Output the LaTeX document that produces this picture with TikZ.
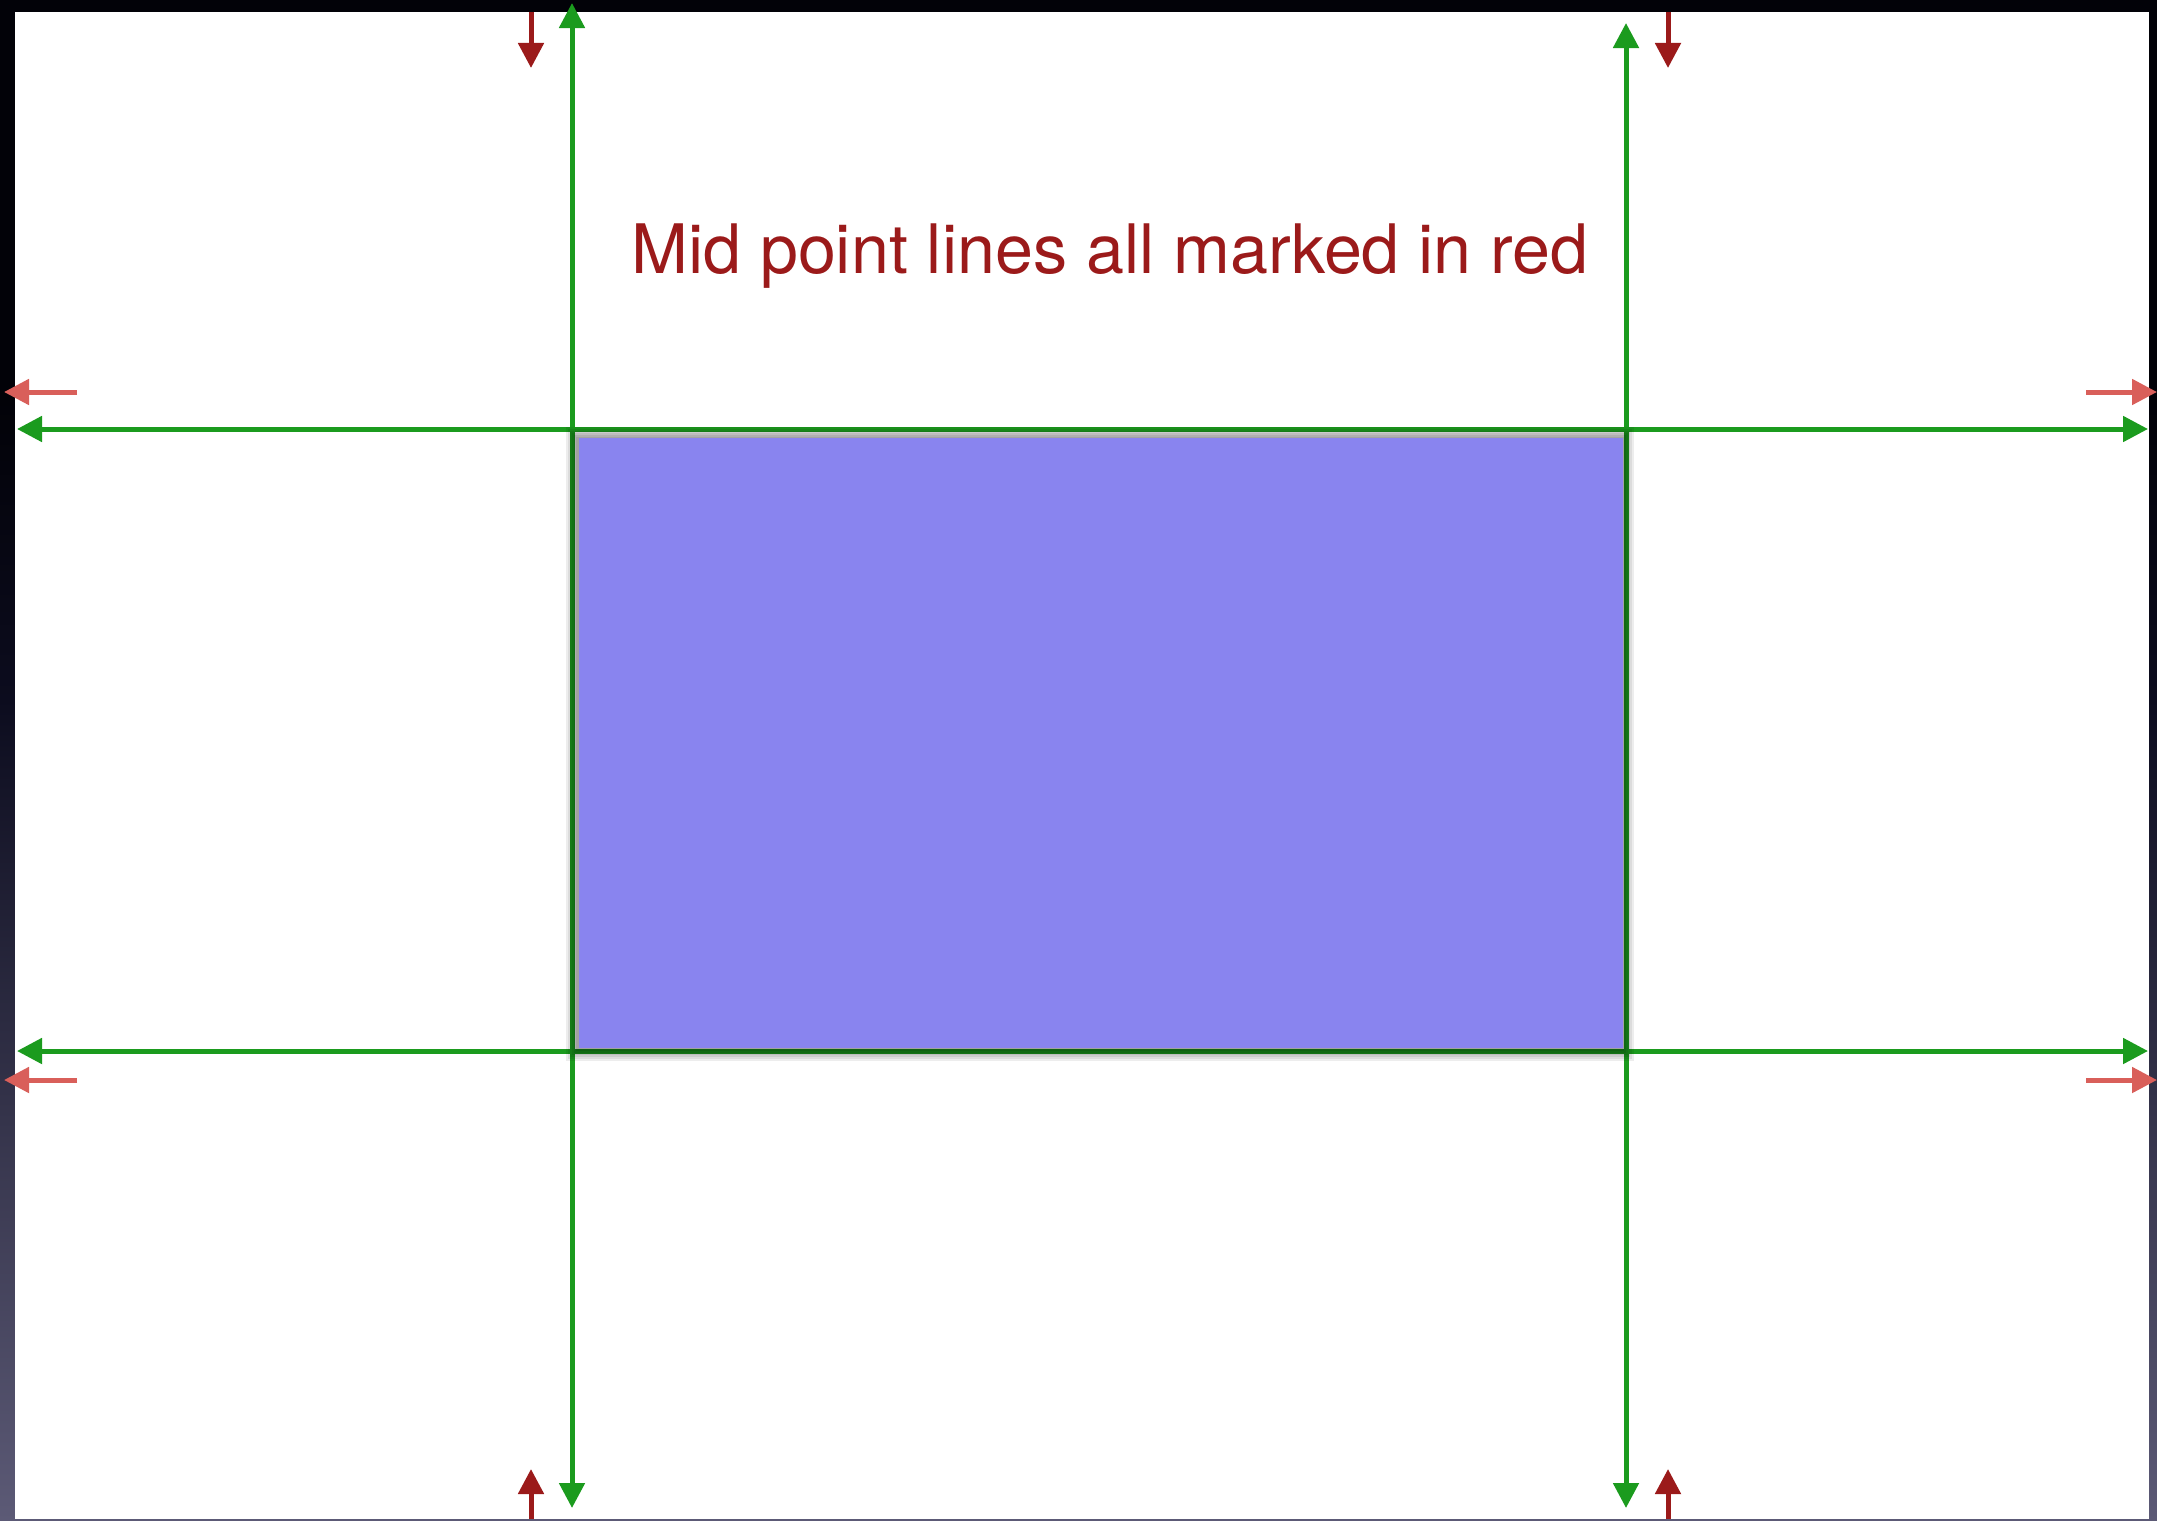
\documentclass[tikz,border=0pt]{standalone}
\usepackage{fontspec}
\setmainfont{TeX Gyre Heros}
\usetikzlibrary{arrows.meta}
\definecolor{gline}{RGB}{27,155,30}
\definecolor{dred}{RGB}{155,26,26}
\definecolor{lred}{RGB}{217,95,90}
\definecolor{blueb}{RGB}{137,132,239}
\definecolor{bgtop}{RGB}{2,2,8}
\definecolor{bgmid}{RGB}{12,12,30}
\definecolor{bgbot}{RGB}{92,90,118}
\tikzset{
  gline/.style={draw=gline,line width=0.05cm,{Triangle[length=0.25cm,width=0.25cm]}-{Triangle[length=0.25cm,width=0.25cm]}},
  darrow/.style={draw=dred,line width=0.05cm,-{Triangle[length=0.25cm,width=0.25cm]}},
  larrow/.style={draw=lred,line width=0.05cm,-{Triangle[length=0.25cm,width=0.25cm]}},
  titletext/.style={text=dred,font=\fontsize{19.4}{22}\selectfont,anchor=base,inner sep=0pt},
  shadowlayer/.style={fill=black,fill opacity=0.07}
}
\begin{document}
\begin{tikzpicture}[x=0.01cm,y=-0.01cm]
\useasboundingbox (0,0) rectangle (2157,1521);
% background
\fill[bgtop] (0,0) rectangle (2157,400);
\shade[top color=bgtop,bottom color=bgmid] (0,399) rectangle (2157,700);
\shade[top color=bgmid,bottom color=bgbot] (0,699) rectangle (2157,1521);
\fill[white] (15,12) rectangle (2149,1519);
% coordinates
\coordinate (vlt) at (572,3);    \coordinate (vlb) at (572,1508);
\coordinate (vrt) at (1626,23);  \coordinate (vrb) at (1626,1508);
\coordinate (htl) at (17,429);   \coordinate (htr) at (2148,429);
\coordinate (hbl) at (17,1051);  \coordinate (hbr) at (2148,1051);
% green lines
\draw[gline] (vlb) -- (vlt);
\draw[gline] (vrb) -- (vrt);
\draw[gline] (htl) -- (htr);
\draw[gline] (hbl) -- (hbr);
% soft shadow around the rectangle
\foreach \d in {12,10,8,6,4,2}{
  \fill[shadowlayer] (578-\d,437-\d+2) rectangle (1622+\d,1047+\d+2);
}
% blue rectangle
\node[fill=blueb,minimum width=10.44cm,minimum height=6.10cm,inner sep=0pt,
      anchor=north west] (box) at (578,437) {};
% title
\node[titletext] (title) at (1110,273) {Mid point lines all marked in red};
% dark red markers
\coordinate (a1s) at (531,12);   \coordinate (a1e) at (531,68);
\coordinate (a2s) at (1668,12);  \coordinate (a2e) at (1668,68);
\coordinate (a3s) at (531,1519); \coordinate (a3e) at (531,1469);
\coordinate (a4s) at (1668,1519);\coordinate (a4e) at (1668,1469);
\draw[darrow] (a1s) -- (a1e);
\draw[darrow] (a2s) -- (a2e);
\draw[darrow] (a3s) -- (a3e);
\draw[darrow] (a4s) -- (a4e);
% light red markers
\coordinate (b1s) at (77,392);    \coordinate (b1e) at (4,392);
\coordinate (b2s) at (2086,392);  \coordinate (b2e) at (2157,392);
\coordinate (b3s) at (77,1080);   \coordinate (b3e) at (4,1080);
\coordinate (b4s) at (2086,1080); \coordinate (b4e) at (2157,1080);
\draw[larrow] (b1s) -- (b1e);
\draw[larrow] (b2s) -- (b2e);
\draw[larrow] (b3s) -- (b3e);
\draw[larrow] (b4s) -- (b4e);
\end{tikzpicture}
\end{document}
